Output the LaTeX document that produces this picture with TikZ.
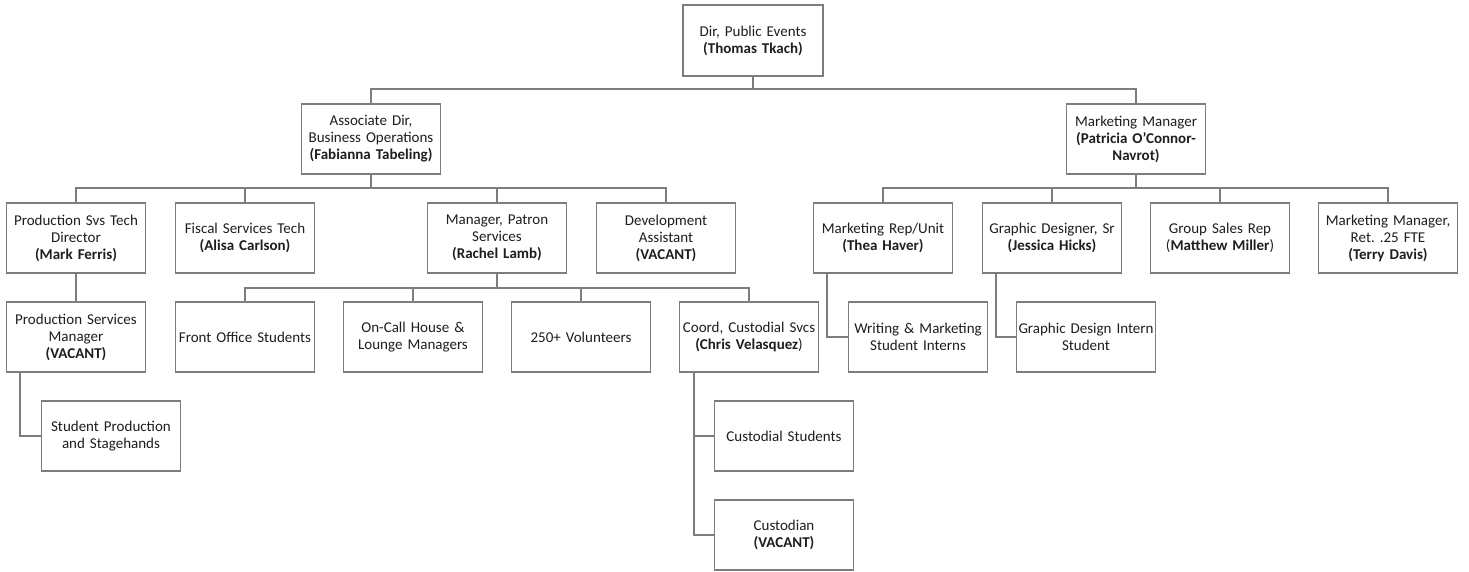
\documentclass[tikz,border=0pt]{standalone}
\usepackage{fontspec}
\setmainfont{Carlito}
\frenchspacing
\definecolor{ln}{RGB}{125,125,125}
\definecolor{tx}{RGB}{30,30,30}
\begin{document}
\begin{tikzpicture}[x=1pt,y=-1pt,
  box/.style={draw=ln,line width=1.4pt,fill=white,minimum width=139pt,minimum height=70pt,
    text width=138pt,align=center,inner sep=0.5pt,text=tx,font=\fontsize{15}{17}\selectfont},
  conn/.style={draw=ln,line width=1.4pt}]
\useasboundingbox (0,0) rectangle (1469,572);
\node[box,minimum width=140pt,minimum height=71pt] (top) at (753,40.5) {Dir, Public Events\\\textbf{(Thomas Tkach)}};
\node[box] (assoc) at (371,139) {Associate Dir,\\Business Operations\\\textbf{(Fabianna Tabeling)}};
\node[box] (mkt) at (1136,139) {Marketing Manager\\\textbf{(Patricia O’Connor-}\\\textbf{Navrot)}};
\node[box] (pstd) at (76,238) {Production Svs Tech\\Director\\\textbf{(Mark Ferris)}};
\node[box] (fiscal) at (245,238) {Fiscal Services Tech\\\textbf{(Alisa Carlson)}};
\node[box] (patron) at (497,238) {Manager, Patron\\Services\\\textbf{(Rachel Lamb)}};
\node[box] (dev) at (666,238) {Development\\Assistant\\\textbf{(VACANT)}};
\node[box] (mrep) at (883,238) {Marketing Rep/Unit\\\textbf{(Thea Haver)}};
\node[box] (gds) at (1052,238) {Graphic Designer, Sr\\\textbf{(Jessica Hicks)}};
\node[box] (gsr) at (1220,238) {Group Sales Rep\\(\textbf{Matthew Miller})};
\node[box] (mmr) at (1388,238) {Marketing Manager,\\Ret. .25 FTE\\\textbf{(Terry Davis)}};
\node[box] (psm) at (76,337) {Production Services\\Manager\\\textbf{(VACANT)}};
\node[box] (fos) at (245,337) {Front Office Students};
\node[box] (oncall) at (413,337) {On-Call House \&\\Lounge Managers};
\node[box] (vol) at (581,337) {250+ Volunteers};
\node[box] (coord) at (749,337) {Coord, Custodial Svcs\\\textbf{(Chris Velasquez})};
\node[box] (wm) at (918,337) {Writing \& Marketing\\Student Interns};
\node[box] (gdi) at (1086,337) {Graphic Design Intern\\Student};
\node[box] (sps) at (111,436) {Student Production\\and Stagehands};
\node[box] (cs) at (784,436) {Custodial Students};
\node[box] (cust) at (784,535) {Custodian\\\textbf{(VACANT)}};
% top level
\coordinate (b0) at (753,89);
\draw[conn] (top.south) -- (b0);
\draw[conn] (b0) -| (assoc.north);
\draw[conn] (b0) -| (mkt.north);
% associate
\coordinate (b1) at (371,188);
\draw[conn] (assoc.south) -- (b1);
\draw[conn] (b1) -| (pstd.north);
\draw[conn] (b1) -| (fiscal.north);
\draw[conn] (b1) -| (patron.north);
\draw[conn] (b1) -| (dev.north);
% marketing
\coordinate (b2) at (1136,188);
\draw[conn] (mkt.south) -- (b2);
\draw[conn] (b2) -| (mrep.north);
\draw[conn] (b2) -| (gds.north);
\draw[conn] (b2) -| (gsr.north);
\draw[conn] (b2) -| (mmr.north);
% patron
\coordinate (b3) at (497,288);
\draw[conn] (patron.south) -- (b3);
\draw[conn] (b3) -| (fos.north);
\draw[conn] (b3) -| (oncall.north);
\draw[conn] (b3) -| (vol.north);
\draw[conn] (b3) -| (coord.north);
% production
\draw[conn] (pstd.south) -- (psm.north);
\draw[conn] ([xshift=14pt]psm.south west) |- (sps.west);
% custodial
\draw[conn] ([xshift=15pt]coord.south west) |- (cs.west);
\draw[conn] ([xshift=15pt]coord.south west) |- (cust.west);
% marketing interns
\draw[conn] ([xshift=14pt]mrep.south west) |- (wm.west);
\draw[conn] ([xshift=14pt]gds.south west) |- (gdi.west);
\end{tikzpicture}
\end{document}
